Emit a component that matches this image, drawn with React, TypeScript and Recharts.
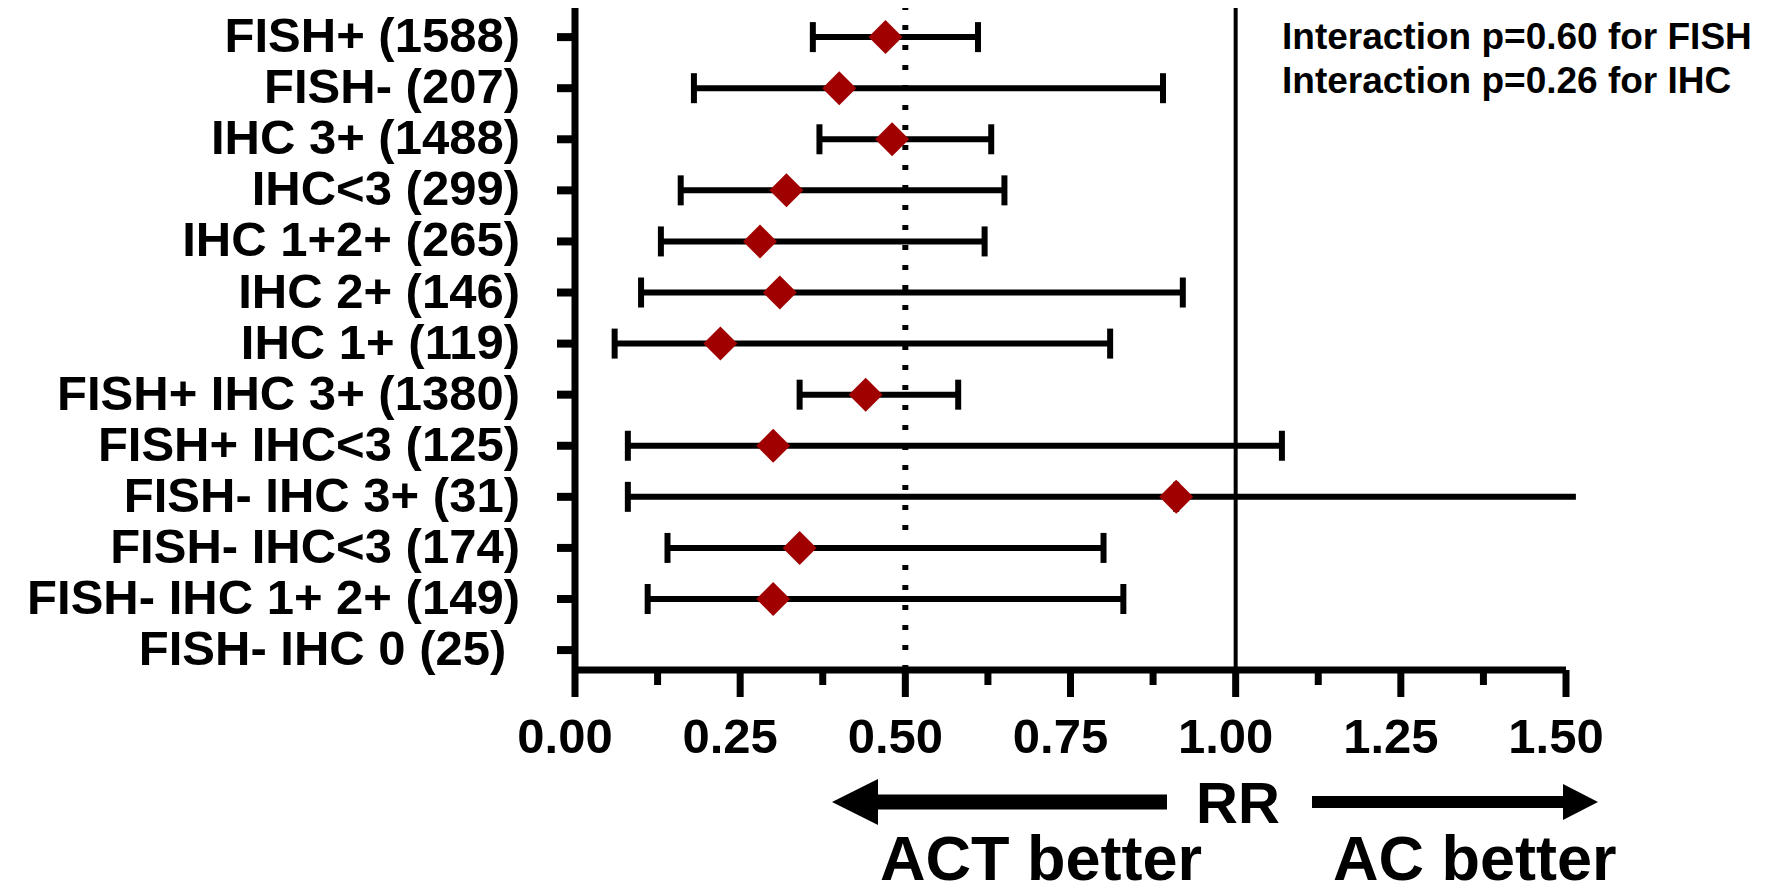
import React from 'react';
import { ScatterChart, Scatter, XAxis, YAxis, ErrorBar, ReferenceLine } from 'recharts';

// subgroup rows, top to bottom
const subgroups = [
  'FISH+ (1588)',
  'FISH- (207)',
  'IHC 3+ (1488)',
  'IHC<3 (299)',
  'IHC 1+2+ (265)',
  'IHC 2+ (146)',
  'IHC 1+ (119)',
  'FISH+ IHC 3+ (1380)',
  'FISH+ IHC<3 (125)',
  'FISH- IHC 3+ (31)',
  'FISH- IHC<3 (174)',
  'FISH- IHC 1+ 2+ (149)',
  'FISH- IHC 0 (25)\u00a0',
];

// relative risk with 95% CI (last row has no estimate)
const rrValues = [0.47, 0.40, 0.48, 0.32, 0.28, 0.31, 0.22, 0.44, 0.30, 0.91, 0.34, 0.30, null];
const ciLower = [0.36, 0.18, 0.37, 0.16, 0.13, 0.10, 0.06, 0.34, 0.08, 0.08, 0.14, 0.11, null];
const ciUpper = [0.61, 0.89, 0.63, 0.65, 0.62, 0.92, 0.81, 0.58, 1.07, 1.515, 0.80, 0.83, null];
// upper limit runs past the axis end: drawn without a cap
const openUpper = [false, false, false, false, false, false, false, false, false, true, false, false, false];

const rrTicks = [0, 0.125, 0.25, 0.375, 0.5, 0.625, 0.75, 0.875, 1, 1.125, 1.25, 1.375, 1.5];
const rowTicks = subgroups.map((_, i) => i);

const interactionNotes = ['Interaction p=0.60 for FISH', 'Interaction p=0.26 for IHC'];

const FONT = "'Liberation Sans', Arial, Helvetica, sans-serif";
const RED = '#a00000';

// ciCapped: whiskers ending in a cap; ciOpen: cap-less run-off segment
const points = rrValues
  .map((rr, i) => ({ row: i, rr, lo: ciLower[i], hi: ciUpper[i], open: openUpper[i] }))
  .filter((d) => d.rr !== null)
  .map((d) => {
    const rr = d.rr as number;
    const below = rr - (d.lo as number);
    const above = (d.hi as number) - rr;
    return {
      row: d.row,
      rr,
      ciCapped: [below, d.open ? 0 : above],
      ciOpen: [0, d.open ? above : 0],
    };
  });

const Diamond = (props: any) => {
  const { cx, cy } = props;
  const r = 17;
  return (
    <polygon
      points={`${cx},${cy - r} ${cx + r},${cy} ${cx},${cy + r} ${cx - r},${cy}`}
      fill={RED}
    />
  );
};

const RowTick = (props: any) => {
  const { x, y, payload } = props;
  return (
    <g>
      <line x1={x - 18} x2={x} y1={y} y2={y} stroke="#000" strokeWidth={8} />
      <text
        x={x - 55}
        y={y + 15}
        textAnchor="end"
        fontSize={49}
        fontWeight={700}
        fontFamily={FONT}
        fill="#000"
      >
        {subgroups[payload.value]}
      </text>
    </g>
  );
};

const RrTick = (props: any) => {
  const { x, y, payload } = props;
  const major = Number.isInteger(payload.value * 4);
  return (
    <g>
      <line x1={x} x2={x} y1={y} y2={y + (major ? 27 : 15)} stroke="#000" strokeWidth={7} />
      {major && (
        <text
          x={x - 10}
          y={y + 83}
          textAnchor="middle"
          fontSize={49}
          fontWeight={700}
          fontFamily={FONT}
          fill="#000"
        >
          {payload.value.toFixed(2)}
        </text>
      )}
    </g>
  );
};

const textStyle = { fontFamily: FONT, fontWeight: 700, fill: '#000' } as const;

export default function App() {
  return (
    <div style={{ position: 'absolute', left: 0, top: 0, width: 1774, height: 895, background: '#fff' }}>
      <ScatterChart
        width={1774}
        height={895}
        margin={{ top: 8, right: 208, bottom: 125, left: 0 }}
      >
        <XAxis
          type="number"
          dataKey="rr"
          domain={[0, 1.5]}
          allowDataOverflow
          ticks={rrTicks}
          interval={0}
          tickSize={0}
          tickMargin={0}
          tickLine={false}
          tick={<RrTick />}
          height={100}
          axisLine={{ stroke: '#000', strokeWidth: 7 }}
        />
        <YAxis
          type="number"
          dataKey="row"
          domain={[-0.57, 12.39]}
          allowDataOverflow
          reversed
          ticks={rowTicks}
          interval={0}
          tickSize={0}
          tickMargin={0}
          tickLine={false}
          tick={<RowTick />}
          width={575}
          axisLine={{ stroke: '#000', strokeWidth: 7 }}
        />
        <ReferenceLine x={0.5} stroke="#000" strokeWidth={6} strokeDasharray="5 15" />
        <ReferenceLine x={1} stroke="#000" strokeWidth={4} />
        <Scatter data={points} shape={<Diamond />} isAnimationActive={false}>
          <ErrorBar
            dataKey="ciCapped"
            direction="x"
            width={15}
            stroke="#000"
            strokeWidth={6}
            isAnimationActive={false}
          />
          <ErrorBar
            dataKey="ciOpen"
            direction="x"
            width={0}
            stroke="#000"
            strokeWidth={6}
            isAnimationActive={false}
          />
        </Scatter>
      </ScatterChart>

      <svg
        width={1774}
        height={895}
        style={{ position: 'absolute', left: 0, top: 0, pointerEvents: 'none' }}
      >
        {interactionNotes.map((note, i) => (
          <text key={note} x={1282} y={49 + i * 44} fontSize={37} {...textStyle}>
            {note}
          </text>
        ))}

        {/* ACT better arrow */}
        <polygon points="832,802 878,779 878,825" fill="#000" />
        <rect x={876} y={794.5} width={291} height={15} fill="#000" />
        <text x={1238} y={823} fontSize={58} textAnchor="middle" {...textStyle}>
          RR
        </text>
        {/* AC better arrow */}
        <rect x={1312} y={796} width={253} height={12} fill="#000" />
        <polygon points="1598,802 1563,784 1563,820" fill="#000" />

        <text x={880} y={880} fontSize={63} {...textStyle}>
          ACT better
        </text>
        <text x={1333} y={880} fontSize={63} {...textStyle}>
          AC better
        </text>
      </svg>
    </div>
  );
}
